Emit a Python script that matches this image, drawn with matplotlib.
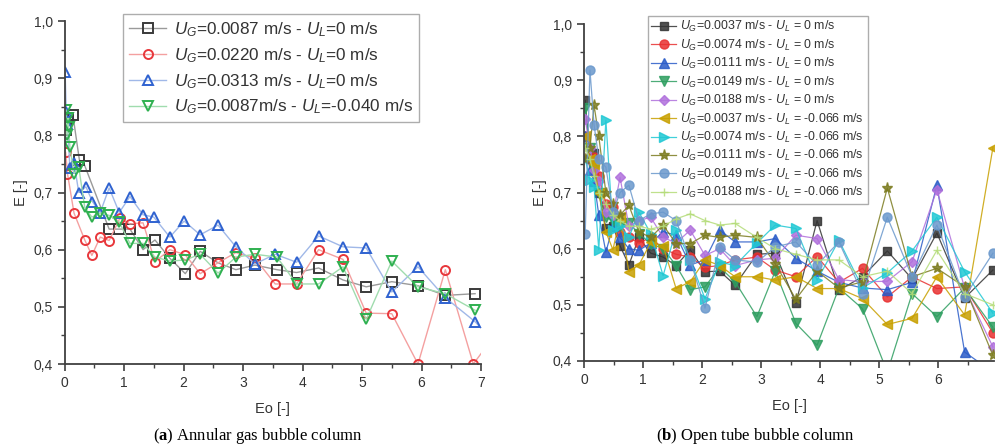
import numpy as np
import matplotlib
matplotlib.use('Agg')
import matplotlib.pyplot as plt
from matplotlib.ticker import MultipleLocator, FuncFormatter

plt.rcParams['font.family'] = ['Liberation Sans', 'DejaVu Sans']
plt.rcParams['mathtext.fontset'] = 'custom'
plt.rcParams['mathtext.it'] = 'Liberation Sans:italic'
plt.rcParams['mathtext.rm'] = 'Liberation Sans'
plt.rcParams['mathtext.bf'] = 'Liberation Serif:bold'

# ---- (a) annular gas bubble column ----
xa_black = [0.02, 0.06, 0.14, 0.25, 0.34, 0.75, 0.92, 1.1, 1.32, 1.52, 1.77, 2.03, 2.28, 2.58, 2.88,
            3.2, 3.57, 3.9, 4.27, 4.68, 5.07, 5.5, 5.94, 6.4, 6.9]
ya_black = [0.81, 0.83, 0.836, 0.757, 0.747, 0.636, 0.636, 0.636, 0.60, 0.617, 0.585, 0.558, 0.597,
            0.577, 0.565, 0.573, 0.565, 0.56, 0.568, 0.547, 0.535, 0.544, 0.537, 0.52, 0.523]
xa_red = [0.02, 0.05, 0.16, 0.34, 0.46, 0.6, 0.75, 0.93, 1.1, 1.32, 1.52, 1.77, 2.03, 2.28, 2.58,
          2.88, 3.2, 3.54, 3.9, 4.27, 4.68, 5.07, 5.5, 5.94, 6.4, 6.87, 7.3]
ya_red = [0.77, 0.733, 0.664, 0.617, 0.59, 0.622, 0.616, 0.655, 0.645, 0.647, 0.579, 0.60, 0.591,
          0.558, 0.577, 0.595, 0.585, 0.54, 0.54, 0.60, 0.583, 0.489, 0.488, 0.40, 0.565, 0.40, 0.46]
xa_blue = [0.01, 0.03, 0.05, 0.09, 0.16, 0.24, 0.36, 0.47, 0.6, 0.75, 0.92, 1.1, 1.32, 1.5, 1.77,
           2.01, 2.28, 2.58, 2.88, 3.2, 3.54, 3.9, 4.27, 4.68, 5.07, 5.5, 5.94, 6.4, 6.9, 7.2]
ya_blue = [0.91, 0.84, 0.82, 0.743, 0.752, 0.70, 0.71, 0.684, 0.665, 0.708, 0.665, 0.693, 0.661,
           0.657, 0.622, 0.65, 0.626, 0.643, 0.605, 0.575, 0.592, 0.578, 0.624, 0.605, 0.603, 0.526,
           0.57, 0.516, 0.474, 0.44]
xa_green = [0.02, 0.04, 0.06, 0.07, 0.09, 0.16, 0.24, 0.34, 0.46, 0.6, 0.75, 0.92, 1.1, 1.32, 1.52,
            1.77, 2.03, 2.28, 2.58, 2.88, 3.2, 3.57, 3.9, 4.27, 4.68, 5.07, 5.5, 5.94, 6.4, 6.9]
ya_green = [0.845, 0.80, 0.83, 0.815, 0.78, 0.733, 0.744, 0.674, 0.657, 0.664, 0.66, 0.648, 0.611,
            0.611, 0.587, 0.58, 0.582, 0.592, 0.559, 0.587, 0.592, 0.587, 0.54, 0.54, 0.57, 0.478,
            0.58, 0.535, 0.523, 0.494]
labels_a = [r'$U_G$=0.0087 m/s - $U_L$=0 m/s',
            r'$U_G$=0.0220 m/s - $U_L$=0 m/s',
            r'$U_G$=0.0313 m/s - $U_L$=0 m/s',
            r'$U_G$=0.0087m/s - $U_L$=-0.040 m/s']

# ---- (b) open tube bubble column ----
xb = [0.02, 0.1, 0.17, 0.25, 0.37, 0.49, 0.61, 0.76, 0.93, 1.13, 1.34, 1.56, 1.8, 2.05, 2.3, 2.56,
      2.93, 3.24, 3.59, 3.95, 4.32, 4.72, 5.14, 5.56, 5.98, 6.45, 6.93]
yb_1 = [0.864, 0.76, 0.77, 0.70, 0.636, 0.64, 0.605, 0.571, 0.62, 0.592, 0.585, 0.57, 0.598, 0.559,
        0.56, 0.535, 0.59, 0.592, 0.503, 0.65, 0.526, 0.55, 0.596, 0.546, 0.628, 0.512, 0.562]
yb_2 = [0.80, 0.76, 0.763, 0.73, 0.68, 0.675, 0.63, 0.62, 0.61, 0.62, 0.60, 0.59, 0.585, 0.567, 0.57,
        0.58, 0.585, 0.562, 0.55, 0.586, 0.54, 0.565, 0.514, 0.55, 0.529, 0.532, 0.45]
yb_3 = [0.80, 0.74, 0.72, 0.66, 0.594, 0.64, 0.62, 0.60, 0.597, 0.61, 0.63, 0.624, 0.571, 0.58, 0.633,
        0.612, 0.612, 0.618, 0.583, 0.56, 0.54, 0.53, 0.527, 0.54, 0.713, 0.416, 0.38]
yb_4 = [0.85, 0.78, 0.74, 0.70, 0.656, 0.65, 0.64, 0.645, 0.627, 0.609, 0.60, 0.57, 0.527, 0.532,
        0.567, 0.541, 0.479, 0.56, 0.467, 0.428, 0.53, 0.493, 0.38, 0.52, 0.479, 0.53, 0.46]
yb_5 = [0.83, 0.78, 0.74, 0.72, 0.665, 0.66, 0.727, 0.64, 0.65, 0.656, 0.62, 0.61, 0.633, 0.588, 0.60,
        0.57, 0.58, 0.583, 0.624, 0.618, 0.545, 0.541, 0.542, 0.577, 0.705, 0.53, 0.425]
yb_6 = [0.80, 0.76, 0.75, 0.70, 0.63, 0.598, 0.656, 0.559, 0.571, 0.611, 0.605, 0.529, 0.541, 0.58,
        0.57, 0.55, 0.55, 0.544, 0.55, 0.529, 0.529, 0.511, 0.465, 0.476, 0.55, 0.482, 0.78]
yb_7 = [0.76, 0.722, 0.71, 0.598, 0.829, 0.633, 0.64, 0.62, 0.665, 0.627, 0.552, 0.633, 0.58, 0.511,
        0.576, 0.57, 0.61, 0.642, 0.636, 0.544, 0.615, 0.53, 0.557, 0.596, 0.656, 0.559, 0.485]
yb_8 = [0.76, 0.78, 0.855, 0.80, 0.70, 0.68, 0.66, 0.677, 0.63, 0.62, 0.642, 0.609, 0.609, 0.624, 0.62,
        0.624, 0.62, 0.573, 0.51, 0.56, 0.53, 0.541, 0.708, 0.55, 0.565, 0.532, 0.41]
yb_9 = [0.627, 0.918, 0.82, 0.76, 0.745, 0.665, 0.70, 0.713, 0.65, 0.662, 0.665, 0.65, 0.58, 0.494,
        0.603, 0.58, 0.576, 0.603, 0.612, 0.571, 0.612, 0.52, 0.656, 0.55, 0.642, 0.514, 0.592]
yb_10 = [0.78, 0.76, 0.73, 0.70, 0.68, 0.66, 0.65, 0.64, 0.64, 0.635, 0.64, 0.653, 0.662, 0.65, 0.642,
         0.645, 0.62, 0.60, 0.59, 0.58, 0.58, 0.55, 0.56, 0.52, 0.597, 0.52, 0.50]
labels_b = [r'$U_G$=0.0037 m/s - $U_L$ = 0 m/s',
            r'$U_G$=0.0074 m/s - $U_L$ = 0 m/s',
            r'$U_G$=0.0111 m/s - $U_L$ = 0 m/s',
            r'$U_G$=0.0149 m/s - $U_L$ = 0 m/s',
            r'$U_G$=0.0188 m/s - $U_L$ = 0 m/s',
            r'$U_G$=0.0037 m/s - $U_L$ = -0.066 m/s',
            r'$U_G$=0.0074 m/s - $U_L$ = -0.066 m/s',
            r'$U_G$=0.0111 m/s - $U_L$ = -0.066 m/s',
            r'$U_G$=0.0149 m/s - $U_L$ = -0.066 m/s',
            r'$U_G$=0.0188 m/s - $U_L$ = -0.066 m/s']

axcol = '#404040'
comma = FuncFormatter(lambda v, p: ('%.1f' % v).replace('.', ','))


def style_axis(ax, xmax):
    ax.set_xlim(0, xmax)
    ax.set_ylim(0.4, 1.0)
    ax.spines['top'].set_visible(False)
    ax.spines['right'].set_visible(False)
    for s in ['left', 'bottom']:
        ax.spines[s].set_color(axcol)
        ax.spines[s].set_linewidth(1.3)
    ax.xaxis.set_major_locator(MultipleLocator(1))
    ax.xaxis.set_minor_locator(MultipleLocator(0.5))
    ax.yaxis.set_major_locator(MultipleLocator(0.1))
    ax.yaxis.set_minor_locator(MultipleLocator(0.05))
    ax.yaxis.set_major_formatter(comma)
    ax.tick_params(which='major', length=5, width=1.2, color=axcol, labelsize=10, labelcolor='#333333')
    ax.tick_params(which='minor', length=3, width=1.0, color=axcol)
    ax.set_xlabel('Eo [-]', fontsize=10.5, color='#333333', labelpad=9)
    ax.set_ylabel('E [-]', fontsize=10.5, color='#333333', labelpad=4)


fig = plt.figure(figsize=(9.97, 4.48), dpi=100)
ax1 = fig.add_axes([0.0647, 0.1875, 0.4178, 0.7656])
ax2 = fig.add_axes([0.5858, 0.1942, 0.4113, 0.7522])

series_a = [(xa_black, ya_black, 's', '#3a3a3a', '#9a9a9a'),
            (xa_red, ya_red, 'o', '#e8383c', '#f4a0a0'),
            (xa_blue, ya_blue, '^', '#2f62d0', '#a0b8e8'),
            (xa_green, ya_green, 'v', '#2fb050', '#a0dcae')]
for (x, y, m, mc, lc), lab in zip(series_a, labels_a):
    ax1.plot(x, y, color=lc, lw=1.0, marker=m, ms=6.5, mfc='none', mec=mc, mew=1.4, label=lab)
style_axis(ax1, 7)
leg1 = ax1.legend(loc='upper left', bbox_to_anchor=(0.14, 1.02), fontsize=12.3, frameon=True,
                  fancybox=False, edgecolor='#999999', handlelength=2.2, handletextpad=0.45,
                  labelspacing=0.42, borderpad=0.35, borderaxespad=0)
leg1.get_frame().set_linewidth(1.0)
for t in leg1.get_texts():
    t.set_color('#333333')

series_b = [(yb_1, 's', '#333333', 6),
            (yb_2, 'o', '#e83030', 6.5),
            (yb_3, '^', '#2a5cc8', 6.5),
            (yb_4, 'v', '#2e9e60', 6.5),
            (yb_5, 'D', '#b070dc', 5.5),
            (yb_6, '<', '#c8a000', 6.5),
            (yb_7, '>', '#20c8d4', 6.5),
            (yb_8, '*', '#7c7c20', 8),
            (yb_9, 'o', '#6a98cc', 6.5),
            (yb_10, '+', '#b4dc78', 6)]
for (y, m, c, ms), lab in zip(series_b, labels_b):
    ax2.plot(xb, y, color=c, lw=0.9, alpha=0.85, marker=m, ms=ms, mfc=c, mec=c, mew=1.0, label=lab)
style_axis(ax2, 6.95)
leg2 = ax2.legend(loc='upper left', bbox_to_anchor=(0.155, 1.025), fontsize=8.9, frameon=True,
                  fancybox=False, edgecolor='#999999', handlelength=2.0, handletextpad=0.35,
                  labelspacing=0.27, borderpad=0.3, borderaxespad=0)
leg2.get_frame().set_linewidth(1.0)
for t in leg2.get_texts():
    t.set_color('#333333')

fig.text(0.259, 0.027, r'($\mathbf{a}$) Annular gas bubble column', ha='center', va='center',
         fontsize=12, family='Liberation Serif')
fig.text(0.757, 0.027, r'($\mathbf{b}$) Open tube bubble column', ha='center', va='center',
         fontsize=12, family='Liberation Serif')

fig.savefig('out.png', dpi=100)
